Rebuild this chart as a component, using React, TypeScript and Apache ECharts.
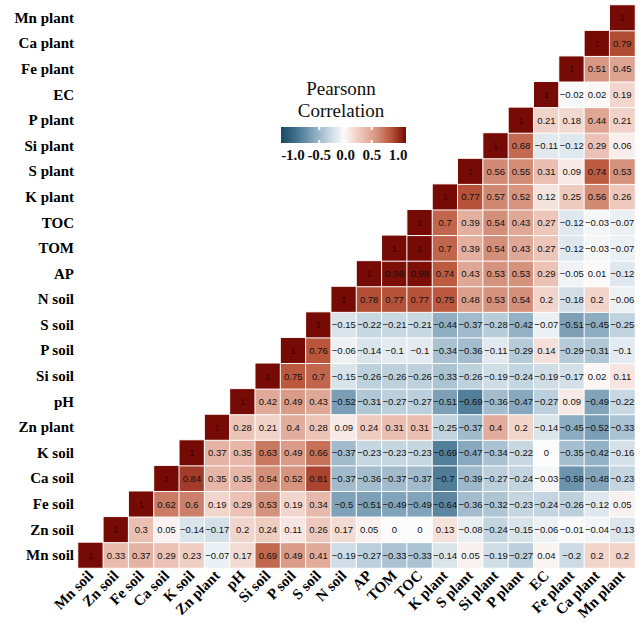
import React, { useEffect, useRef } from "react";
import * as echarts from "echarts";

const variables = [
  "Mn soil", "Zn soil", "Fe soil", "Ca soil", "K soil", "Zn plant", "pH", "Si soil",
  "P soil", "S soil", "N soil", "AP", "TOM", "TOC", "K plant", "S plant", "Si plant",
  "P plant", "EC", "Fe plant", "Ca plant", "Mn plant",
];

// Each row i holds correlations of variable i with variables i..21
const rowMnSoil = [1, 0.33, 0.37, 0.29, 0.23, -0.07, 0.17, 0.69, 0.49, 0.41, -0.19, -0.27, -0.33, -0.33, -0.14, 0.05, -0.19, -0.27, 0.04, -0.2, 0.2, 0.2];
const rowZnSoil = [1, 0.3, 0.05, -0.14, -0.17, 0.2, 0.24, 0.11, 0.26, 0.17, 0.05, 0, 0, 0.13, -0.08, -0.24, -0.15, -0.06, -0.01, -0.04, -0.13];
const rowFeSoil = [1, 0.62, 0.6, 0.19, 0.29, 0.53, 0.19, 0.34, -0.5, -0.51, -0.49, -0.49, -0.64, -0.36, -0.32, -0.23, -0.24, -0.26, -0.12, 0.05];
const rowCaSoil = [1, 0.84, 0.35, 0.35, 0.54, 0.52, 0.81, -0.37, -0.36, -0.37, -0.37, -0.7, -0.39, -0.27, -0.24, -0.03, -0.58, -0.48, -0.23];
const rowKSoil = [1, 0.37, 0.35, 0.63, 0.49, 0.66, -0.37, -0.23, -0.23, -0.23, -0.69, -0.47, -0.34, -0.22, 0, -0.35, -0.42, -0.16];
const rowZnPlant = [1, 0.28, 0.21, 0.4, 0.28, 0.09, 0.24, 0.31, 0.31, -0.25, -0.37, 0.4, 0.2, -0.14, -0.45, -0.52, -0.33];
const rowPH = [1, 0.42, 0.49, 0.43, -0.52, -0.31, -0.27, -0.27, -0.51, -0.69, -0.36, -0.47, -0.27, 0.09, -0.49, -0.22];
const rowSiSoil = [1, 0.75, 0.7, -0.15, -0.26, -0.26, -0.26, -0.33, -0.26, -0.19, -0.24, -0.19, -0.17, 0.02, 0.11];
const rowPSoil = [1, 0.76, -0.06, -0.14, -0.1, -0.1, -0.34, -0.36, -0.11, -0.29, 0.14, -0.29, -0.31, -0.1];
const rowSSoil = [1, -0.15, -0.22, -0.21, -0.21, -0.44, -0.37, -0.28, -0.42, -0.07, -0.51, -0.45, -0.25];
const rowNSoil = [1, 0.78, 0.77, 0.77, 0.75, 0.48, 0.53, 0.54, 0.2, -0.18, 0.2, -0.06];
const rowAP = [1, 0.98, 0.98, 0.74, 0.43, 0.53, 0.53, 0.29, -0.05, 0.01, -0.12];
const rowTOM = [1, 1, 0.7, 0.39, 0.54, 0.43, 0.27, -0.12, -0.03, -0.07];
const rowTOC = [1, 0.7, 0.39, 0.54, 0.43, 0.27, -0.12, -0.03, -0.07];
const rowKPlant = [1, 0.77, 0.57, 0.52, 0.12, 0.25, 0.56, 0.26];
const rowSPlant = [1, 0.56, 0.55, 0.31, 0.09, 0.74, 0.53];
const rowSiPlant = [1, 0.68, -0.11, -0.12, 0.29, 0.06];
const rowPPlant = [1, 0.21, 0.18, 0.44, 0.21];
const rowEC = [1, -0.02, 0.02, 0.19];
const rowFePlant = [1, 0.51, 0.45];
const rowCaPlant = [1, 0.79];
const rowMnPlant = [1];

const upperRows = [
  rowMnSoil, rowZnSoil, rowFeSoil, rowCaSoil, rowKSoil, rowZnPlant, rowPH, rowSiSoil,
  rowPSoil, rowSSoil, rowNSoil, rowAP, rowTOM, rowTOC, rowKPlant, rowSPlant, rowSiPlant,
  rowPPlant, rowEC, rowFePlant, rowCaPlant, rowMnPlant,
];

const legendTicks = [-1, -0.5, 0, 0.5, 1];
const legendTickLabels = ["-1.0", "-0.5", "0.0", "0.5", "1.0"];

// colours evenly spaced from -1 to 1
const scaleColors = [
  "#1a4862", "#43728f", "#7fa2b9", "#c0d3df", "#fbfbfb",
  "#efcabe", "#d99a86", "#bb583d", "#760a05",
];

const fmt = (v: number) => String(v).replace("-", "\u2212");

export default function App() {
  const ref = useRef<HTMLDivElement>(null);

  useEffect(() => {
    document.body.style.margin = "0";
    if (!ref.current) return;
    const chart = echarts.init(ref.current, null, { renderer: "svg" });

    const data: any[] = [];
    upperRows.forEach((row, i) => {
      row.forEach((v, k) => {
        const j = i + k;
        const item: any = { value: [j, i, v] };
        if (v === 1) item.label = { color: "#3d0000" };
        data.push(item);
      });
    });

    // legend geometry
    const barX0 = 281, barX1 = 406, barY = 127, barH = 16;
    const valX0 = 293, valX1 = 398;
    const vx = (v: number) => valX0 + ((v + 1) / 2) * (valX1 - valX0);
    const grad = new echarts.graphic.LinearGradient(
      0, 0, 1, 0,
      scaleColors.map((c, k) => ({ offset: k / (scaleColors.length - 1), color: c }))
    );

    const graphics: any[] = [
      {
        type: "text", left: 341 - 40, top: 78,
        style: { text: "Pearsonn", font: "19px 'Liberation Serif'", fill: "#111", width: 80, align: "center" },
        x: 0,
      },
      {
        type: "rect",
        shape: { x: barX0, y: barY, width: barX1 - barX0, height: barH },
        style: { fill: grad },
      },
    ];
    graphics[0] = {
      type: "text", x: 341, y: 79,
      style: { text: "Pearsonn", font: "19px 'Liberation Serif'", fill: "#111", align: "center", verticalAlign: "top" },
    };
    graphics.push({
      type: "text", x: 341, y: 101,
      style: { text: "Correlation", font: "19px 'Liberation Serif'", fill: "#111", align: "center", verticalAlign: "top" },
    });
    legendTicks.forEach((t, k) => {
      const x = vx(t);
      if (t !== -1 && t !== 1) {
        graphics.push({ type: "rect", shape: { x: x - 1, y: barY, width: 2, height: 3 }, style: { fill: "#fff" } });
        graphics.push({ type: "rect", shape: { x: x - 1, y: barY + barH - 3, width: 2, height: 3 }, style: { fill: "#fff" } });
      }
      graphics.push({
        type: "text", x, y: barY + barH + 4,
        style: { text: legendTickLabels[k], font: "bold 15px 'Liberation Serif'", fill: "#111", align: "center", verticalAlign: "top" },
      });
    });

    const axisLabelBase = {
      fontFamily: "Liberation Serif",
      fontWeight: "bold" as const,
      fontSize: 15,
      color: "#000",
      interval: 0,
    };

    chart.setOption({
      animation: false,
      grid: { left: 78, right: 7, top: 5, bottom: 62 },
      xAxis: {
        type: "category",
        data: variables,
        axisLine: { show: false },
        axisTick: { show: false },
        splitLine: { show: false },
        axisLabel: { ...axisLabelBase, rotate: 45, margin: 5 },
      },
      yAxis: {
        type: "category",
        data: variables,
        axisLine: { show: false },
        axisTick: { show: false },
        splitLine: { show: false },
        axisLabel: { ...axisLabelBase, margin: 4 },
      },
      visualMap: {
        type: "continuous",
        show: false,
        min: -1,
        max: 1,
        dimension: 2,
        inRange: { color: scaleColors },
      },
      series: [
        {
          type: "heatmap",
          data,
          itemStyle: { borderColor: "#ffffff", borderWidth: 1 },
          label: {
            show: true,
            fontFamily: "Liberation Sans",
            fontSize: 9.5,
            color: "#111",
            formatter: (p: any) => fmt(p.value[2]),
          },
          emphasis: { disabled: true },
        },
      ],
      graphic: graphics,
    });

    return () => chart.dispose();
  }, []);

  return <div ref={ref} style={{ width: 642, height: 630 }} />;
}
